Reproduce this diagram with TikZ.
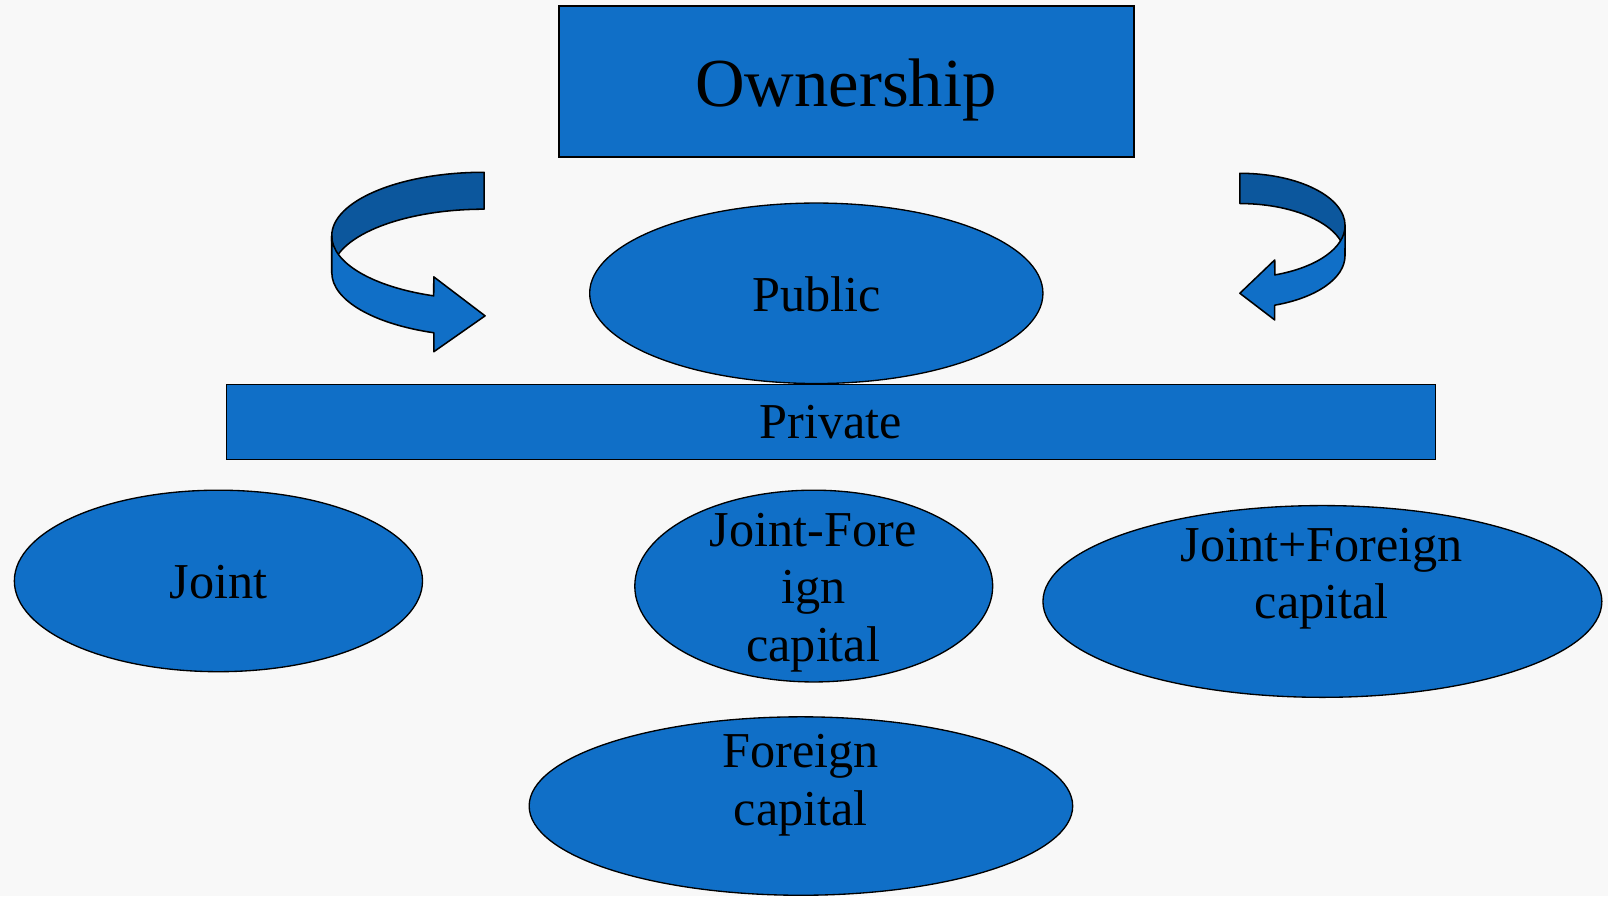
\documentclass[tikz,border=0pt]{standalone}
\usepackage{fontspec}
\setmainfont{Liberation Serif}
\usetikzlibrary{shapes.geometric}
\definecolor{bluefill}{RGB}{16,111,199}
\definecolor{bluedark}{RGB}{12,87,157}
\definecolor{bgcol}{RGB}{248,248,248}
\begin{document}
\begin{tikzpicture}[x=1pt,y=1pt,
  box/.style={rectangle, draw=black, line width=1.6pt, fill=bluefill, inner sep=0pt},
  oval/.style={ellipse, draw=black, line width=1.3pt, fill=bluefill, inner sep=0pt},
  lbl/.style={font=\fontsize{49}{56}\selectfont, align=center, inner sep=0pt, text=black},
  biglbl/.style={font=\fontsize{67}{80}\selectfont, inner sep=0pt, text=black},
  ribfront/.style={fill=bluefill, draw=black, line width=1.5pt, line join=round},
  ribback/.style={fill=bluedark, draw=black, line width=1.5pt, line join=round}]
\fill[bgcol] (0,0) rectangle (1568,874);
\useasboundingbox (0,0) rectangle (1568,874);

% Ownership box
\node[box, minimum width=561pt, minimum height=147pt] (own) at (825.5,794.5) {};
\node[biglbl, anchor=base] (ownt) at (825,770) {Ownership};

% Public ellipse and Private bar
\node[oval, minimum width=442pt, minimum height=176pt] (public) at (796,588) {};
\node[lbl, anchor=base] (publict) at (796,570) {Public};
\node[box, line width=1.4pt, minimum width=1179pt, minimum height=73pt] (private) at (810.5,462.5) {};
\node[lbl, anchor=base] (privatet) at (810,446) {Private};

% Lower ellipses
\node[oval, minimum width=398pt, minimum height=177pt] (joint) at (213,307.5) {};
\node[lbl, anchor=base] (jointt) at (213,290) {Joint};
\node[oval, minimum width=349pt, minimum height=187pt] (jfc) at (793.5,302.5) {};
\node[lbl] (jfct) at (793,296.4) {Joint-Fore\\ign\\capital};
\node[oval, minimum width=545pt, minimum height=187pt] (jpf) at (1289.5,287.5) {};
\node[lbl] (jpft) at (1289,309.4) {Joint+Foreign\\capital};
\node[oval, minimum width=530pt, minimum height=174pt] (fc) at (781,88) {};
\node[lbl] (fct) at (781,108.4) {Foreign\\capital};

% Left curved ribbon arrow (center 472,644; rx 148.5; ry 62; h 36)
\coordinate (lc) at (472,644);
\path[ribback] (472,706) arc[start angle=90, end angle=180, x radius=148.5pt, y radius=62pt]
  -- ++(0,-36) arc[start angle=180, end angle=90, x radius=148.5pt, y radius=62pt] -- cycle;
\path[ribfront] (323.5,644) arc[start angle=180, end angle=250.7, x radius=148.5pt, y radius=62pt]
  -- (423,604) -- (473,566) -- (423,531) -- (423,549.5)
  arc[start angle=250.7, end angle=180, x radius=148.5pt, y radius=62pt] -- cycle;

% Right curved ribbon arrow (center 1209,654; rx 102.6; ry 51; h 29.5)
\path[ribback] (1209,705) arc[start angle=90, end angle=0, x radius=102.6pt, y radius=51pt]
  -- ++(0,-29.5) arc[start angle=0, end angle=90, x radius=102.6pt, y radius=51pt] -- cycle;
\path[ribfront] (1311.6,654) arc[start angle=0, end angle=-70.6, x radius=102.6pt, y radius=51pt]
  -- (1243,620.5) -- (1209,588) -- (1243,562) -- (1243,576.4)
  arc[start angle=-70.6, end angle=0, x radius=102.6pt, y radius=51pt] -- cycle;
\end{tikzpicture}
\end{document}
